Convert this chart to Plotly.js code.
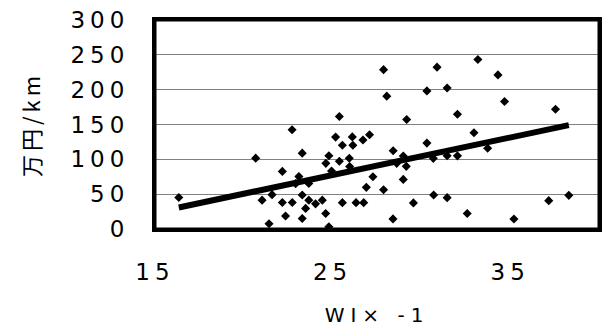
<!DOCTYPE html>
<html>
<head>
<meta charset="utf-8">
<script src="https://cdn.plot.ly/plotly-3.0.1.min.js"></script>
<style>
html,body{margin:0;padding:0;background:#fff;}
#wrap{position:relative;width:605px;height:332px;}
#chart{width:605px;height:332px;}
#frame{position:absolute;box-sizing:border-box;border:3px solid #000;pointer-events:none;display:none;}
.xtick text,.ytick text{letter-spacing:5px;}
.g-xtitle text{letter-spacing:6px;}
.g-ytitle text{letter-spacing:4px;}
</style>
</head>
<body>
<div id="wrap"><div id="chart"></div><div id="frame"></div></div>
<script>
// Scatter points (WI × -1, 万円/km)
const xVals = [16.34,20.67,22.72,25.38,22.17,23.29,23.10,22.92,23.66,24.62,24.79,25.17,25.55,25.38,26.11,26.14,26.71,27.08,25.94,25.96,24.94,27.27,26.90,21.03,21.59,22.17,22.73,23.29,23.66,23.48,24.04,24.42,22.35,23.29,24.61,21.42,24.79,25.55,26.32,26.75,27.87,30.88,33.18,34.31,28.05,30.31,31.45,34.68,29.17,32.03,37.55,30.31,32.96,33.73,28.41,28.98,30.67,31.45,32.03,28.61,29.15,28.98,27.87,29.55,30.69,31.45,37.17,38.30,28.40,32.58,35.21];
const yVals = [45.3,101.7,142.4,161.5,82.7,108.9,75.2,65.2,65.4,94.2,105.1,131.9,120.2,97.2,132.2,120.2,127.7,135.3,101.5,89.6,83.1,75.1,59.8,41.4,49.3,38.1,38.1,48.9,41.4,29.6,36.1,41.4,18.7,15.1,22.3,7.6,3.3,37.8,37.8,37.8,228.7,232.3,243.4,221.2,190.7,198.2,202.4,183.1,157.1,164.8,171.9,123.3,138.2,115.9,112.3,104.7,101.4,105.1,105.0,94.2,89.9,71.2,56.4,37.5,48.9,45.0,40.7,48.3,14.5,22.3,14.4];
// Linear trend line end values
const trendX = [16.34, 38.30];
const trendY = [30.9, 149.1];
// Axis ticks
const xTicks = [15, 25, 35];
const yTicks = [0, 50, 100, 150, 200, 250, 300];

const fontFam = '"DejaVu Sans", "Noto Sans CJK JP", sans-serif';

const traces = [
  {x: xVals, y: yVals, type: 'scatter', mode: 'markers',
   marker: {symbol: 'diamond', size: 7, color: 'black'}, showlegend: false},
  {x: trendX, y: trendY, type: 'scatter', mode: 'lines',
   line: {color: 'black', width: 6}, showlegend: false, hoverinfo: 'skip'}
];

const layout = {
  width: 605, height: 332,
  margin: {l: 155, r: 6, t: 20, b: 103, pad: 0},
  showlegend: false,
  font: {family: fontFam, color: '#000'},
  shapes: [{type: 'rect', xref: 'paper', yref: 'paper', x0: 0, x1: 1, y0: 0, y1: 1,
            line: {color: 'black', width: 3}}],
  xaxis: {
    range: [15, 40], tickvals: xTicks, ticktext: xTicks.map(String),
    showgrid: false, zeroline: false,
    showline: true, mirror: true, linecolor: 'black', linewidth: 3,
    ticklabelstandoff: 20,
    tickfont: {size: 23, family: fontFam, color: '#000'},
    title: {text: 'WI× -1', font: {size: 20, family: fontFam, color: '#000'}, standoff: 25},
    automargin: false
  },
  yaxis: {
    range: [0, 300], tickvals: yTicks, ticktext: yTicks.map(String),
    showgrid: true, gridcolor: '#808080', gridwidth: 1, zeroline: false,
    showline: true, mirror: true, linecolor: 'black', linewidth: 3,
    ticklabelstandoff: 18,
    tickfont: {size: 23, family: fontFam, color: '#000'},
    title: {text: '万円/km', font: {size: 22, family: '"Noto Sans CJK JP", "DejaVu Sans", sans-serif', color: '#000'}, standoff: 24},
    automargin: false
  }
};

Plotly.newPlot('chart', traces, layout, {displayModeBar: false}).then(function(gd){
  // plot-area frame aligned to Plotly's computed plot area
  const s = gd._fullLayout._size;
  const f = document.getElementById('frame');
  f.style.left = (s.l - 3) + 'px';
  f.style.top = (s.t - 3) + 'px';
  f.style.width = (s.w + 6) + 'px';
  f.style.height = (s.h + 6) + 'px';
  f.style.display = 'block';
});
</script>
</body>
</html>
